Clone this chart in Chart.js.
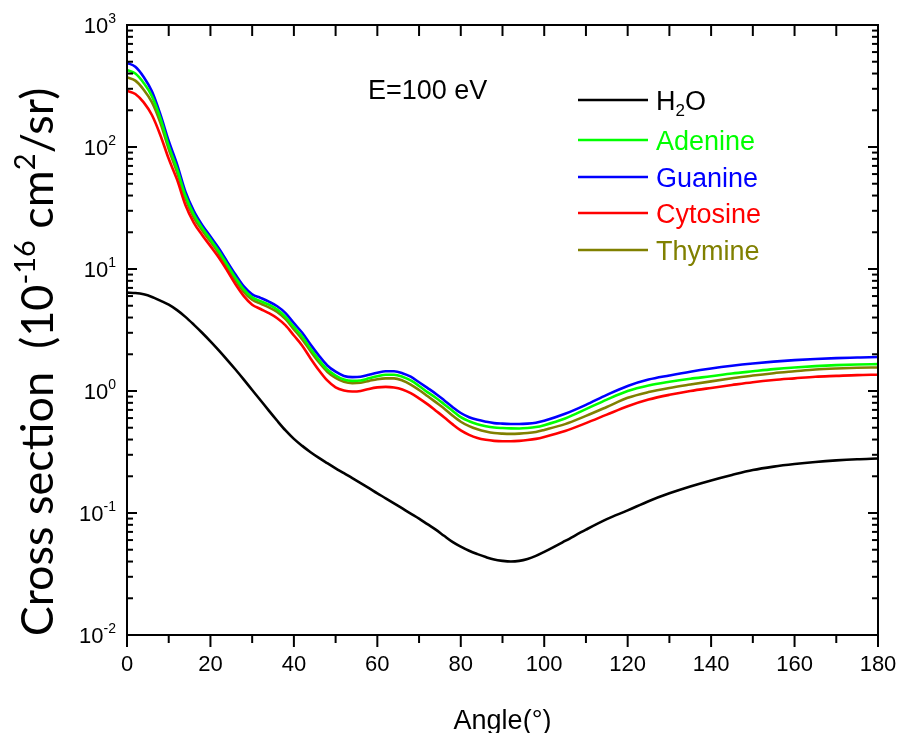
<!DOCTYPE html>
<html>
<head>
<meta charset="utf-8">
<script src="https://cdn.jsdelivr.net/npm/chart.js@4.4.1/dist/chart.umd.min.js"></script>
<style>
  html, body { margin: 0; padding: 0; background: #fff; }
</style>
</head>
<body>
<canvas id="dcs" width="901" height="733"></canvas>
<script>
// differential cross sections at E = 100 eV, units of 1e-16 cm^2/sr
const angles = [0, 2, 4, 6, 8, 10, 12, 14, 16, 18, 20, 22, 24, 26, 28, 30, 32, 34, 36, 38,
  40, 42, 44, 46, 48, 50, 52, 54, 56, 58, 60, 62, 64, 66, 68, 70, 72, 74, 76, 78,
  80, 82, 84, 86, 88, 90, 92, 94, 96, 98, 100, 105, 110, 115, 120, 125, 130, 135,
  140, 145, 150, 155, 160, 165, 170, 175, 180];

const h2o = [6.4, 6.35, 6.2, 5.9, 5.5, 5.1, 4.6, 4.05, 3.5, 3.0, 2.55, 2.15, 1.8, 1.5, 1.24, 1.02, 0.84, 0.69, 0.57, 0.475,
  0.405, 0.355, 0.315, 0.283, 0.256, 0.232, 0.212, 0.193, 0.176, 0.16, 0.145, 0.132, 0.12, 0.109, 0.099, 0.09, 0.081, 0.073, 0.065, 0.058,
  0.053, 0.049, 0.046, 0.0435, 0.0415, 0.0405, 0.04, 0.0405, 0.042, 0.0445, 0.048, 0.059, 0.073, 0.089, 0.105, 0.125, 0.145, 0.165,
  0.185, 0.205, 0.225, 0.24, 0.252, 0.262, 0.27, 0.276, 0.28];

const adenine = [428, 400, 335, 260, 172, 102, 66, 40, 28, 21.8, 17.5, 14.0, 10.9, 8.5, 6.8, 5.85, 5.45, 5.1, 4.65, 4.05,
  3.35, 2.8, 2.22, 1.8, 1.5, 1.34, 1.24, 1.21, 1.22, 1.27, 1.32, 1.36, 1.36, 1.31, 1.22, 1.1, 0.98, 0.88, 0.78, 0.69,
  0.61, 0.565, 0.535, 0.515, 0.502, 0.497, 0.494, 0.493, 0.497, 0.506, 0.525, 0.595, 0.71, 0.85, 1.0, 1.11, 1.19, 1.26,
  1.32, 1.39, 1.45, 1.51, 1.56, 1.6, 1.63, 1.65, 1.66];

const guanine = [490, 455, 375, 285, 185, 112, 72, 43, 30, 23, 18.5, 14.8, 11.5, 9.0, 7.2, 6.2, 5.8, 5.4, 4.95, 4.35,
  3.6, 3.0, 2.4, 1.95, 1.62, 1.44, 1.33, 1.3, 1.31, 1.36, 1.41, 1.45, 1.45, 1.4, 1.31, 1.18, 1.06, 0.95, 0.84, 0.74,
  0.66, 0.61, 0.58, 0.56, 0.545, 0.54, 0.537, 0.536, 0.54, 0.55, 0.57, 0.65, 0.77, 0.93, 1.1, 1.24, 1.34, 1.44,
  1.53, 1.61, 1.68, 1.74, 1.79, 1.83, 1.86, 1.88, 1.9];

const cytosine = [289, 272, 232, 182, 125, 80, 54, 33.5, 24, 19, 15.4, 12.4, 9.7, 7.5, 6.0, 5.1, 4.7, 4.35, 3.95, 3.45,
  2.85, 2.35, 1.85, 1.48, 1.22, 1.07, 1.01, 0.99, 1.0, 1.04, 1.07, 1.08, 1.07, 1.03, 0.96, 0.87, 0.78, 0.69, 0.61, 0.535,
  0.475, 0.437, 0.412, 0.398, 0.39, 0.387, 0.387, 0.39, 0.396, 0.405, 0.42, 0.47, 0.545, 0.64, 0.75, 0.85, 0.93, 1.0,
  1.06, 1.12, 1.18, 1.23, 1.27, 1.31, 1.33, 1.35, 1.36];

const thymine = [373, 350, 295, 232, 158, 96, 62, 38, 26.5, 20.8, 16.8, 13.4, 10.4, 8.1, 6.5, 5.6, 5.2, 4.85, 4.45, 3.88,
  3.2, 2.65, 2.12, 1.72, 1.44, 1.28, 1.19, 1.16, 1.17, 1.21, 1.25, 1.27, 1.27, 1.22, 1.13, 1.02, 0.91, 0.81, 0.72, 0.63,
  0.56, 0.515, 0.485, 0.465, 0.452, 0.447, 0.445, 0.447, 0.452, 0.462, 0.48, 0.535, 0.625, 0.74, 0.88, 0.98, 1.06, 1.13,
  1.2, 1.27, 1.34, 1.4, 1.45, 1.5, 1.53, 1.55, 1.56];

const xTicks = [0, 20, 40, 60, 80, 100, 120, 140, 160, 180];
const yExponents = [-2, -1, 0, 1, 2, 3];

const seriesNames = ["H2O", "Adenine", "Guanine", "Cytosine", "Thymine"];
const seriesColors = ["#000000", "#00ff00", "#0000ff", "#ff0000", "#808000"];
const seriesValues = [h2o, adenine, guanine, cytosine, thymine];

const FONT = "'Liberation Sans', Arial, sans-serif";
const TITLE_FONT = "Lato, 'Liberation Sans', sans-serif";

// draw a row of text pieces; each piece: [text, size, baselineShift]
function richText(ctx, pieces, x, y, align, family) {
  const fam = family || FONT;
  let total = 0;
  for (const [t, s] of pieces) {
    ctx.font = s + "px " + fam;
    total += ctx.measureText(t).width;
  }
  let cx = align === "right" ? x - total : align === "center" ? x - total / 2 : x;
  ctx.textAlign = "left";
  ctx.textBaseline = "alphabetic";
  for (const [t, s, dy] of pieces) {
    ctx.font = s + "px " + fam;
    ctx.fillText(t, cx, y + (dy || 0));
    cx += ctx.measureText(t).width;
  }
}

function seg(ctx, x1, y1, x2, y2) {
  ctx.beginPath();
  ctx.moveTo(x1, y1);
  ctx.lineTo(x2, y2);
  ctx.stroke();
}

const framePlugin = {
  id: "frame",
  afterDatasetsDraw(chart) {
    const { ctx, chartArea: a } = chart;
    const xs = chart.scales.x, ys = chart.scales.y;
    ctx.save();
    ctx.strokeStyle = "#000";
    ctx.fillStyle = "#000";
    ctx.lineWidth = 2;
    ctx.strokeRect(a.left, a.top, a.right - a.left, a.bottom - a.top);

    // x axis: majors every 20, minors halfway between
    for (let i = 0; i < xTicks.length; i++) {
      const px = xs.getPixelForValue(xTicks[i]);
      seg(ctx, px, a.bottom, px, a.bottom + 12);
      seg(ctx, px, a.top, px, a.top + 11);
      if (i < xTicks.length - 1) {
        const mx = xs.getPixelForValue((xTicks[i] + xTicks[i + 1]) / 2);
        seg(ctx, mx, a.bottom, mx, a.bottom + 8);
        seg(ctx, mx, a.top, mx, a.top + 11);
      }
      ctx.font = "22px " + FONT;
      ctx.textAlign = "center";
      ctx.textBaseline = "top";
      ctx.fillText(String(xTicks[i]), px, a.bottom + 19);
    }

    // log y axis: decades with minors 2..9
    for (const e of yExponents) {
      const py = ys.getPixelForValue(Math.pow(10, e));
      seg(ctx, a.left, py, a.left + 10, py);
      seg(ctx, a.right, py, a.right - 10, py);
      richText(ctx, [["10", 22, 0], [String(e), 14, -10]], a.left - 11, py + 8, "right");
      if (e < 3) {
        for (let m = 2; m <= 9; m++) {
          const my = ys.getPixelForValue(m * Math.pow(10, e));
          seg(ctx, a.left, my, a.left + 6, my);
          seg(ctx, a.right, my, a.right - 6, my);
        }
      }
    }

    // axis titles
    richText(ctx, [["Angle(°)", 27, 0]], (a.left + a.right) / 2, 729, "center");

    ctx.save();
    ctx.translate(53, 362);
    ctx.rotate(-Math.PI / 2);
    richText(ctx, [["Cross section  (10", 45, 0], ["-16", 29, -18], [" cm", 45, 0], ["2", 29, -18], ["/sr)", 45, 0]],
      0, 0, "center", TITLE_FONT);
    ctx.restore();

    // energy note
    richText(ctx, [["E=100 eV", 27, 0]], 368, 99, "left");

    // legend
    const rows = [100, 140, 177, 213, 250];
    for (let i = 0; i < seriesNames.length; i++) {
      ctx.strokeStyle = seriesColors[i];
      ctx.lineWidth = 2.5;
      seg(ctx, 578, rows[i], 648, rows[i]);
      ctx.fillStyle = seriesColors[i];
      if (i === 0) {
        richText(ctx, [["H", 27, 0], ["2", 17, 6], ["O", 27, 0]], 656, rows[i] + 10, "left");
      } else {
        richText(ctx, [[seriesNames[i], 27, 0]], 656, rows[i] + 10, "left");
      }
    }
    ctx.restore();
  }
};

new Chart(document.getElementById("dcs"), {
  type: "line",
  data: {
    datasets: seriesNames.map((name, i) => ({
      label: name,
      data: angles.map((a, k) => ({ x: a, y: seriesValues[i][k] })),
      borderColor: seriesColors[i],
      borderWidth: 2.6,
      pointRadius: 0,
      cubicInterpolationMode: "monotone",
      fill: false
    }))
  },
  options: {
    responsive: false,
    animation: false,
    layout: { padding: { left: 127, right: 23, top: 25, bottom: 98 } },
    scales: {
      x: { type: "linear", min: 0, max: 180, display: false },
      y: { type: "logarithmic", min: 0.01, max: 1000, display: false }
    },
    plugins: { legend: { display: false }, tooltip: { enabled: false } }
  },
  plugins: [framePlugin]
});
</script>
</body>
</html>
